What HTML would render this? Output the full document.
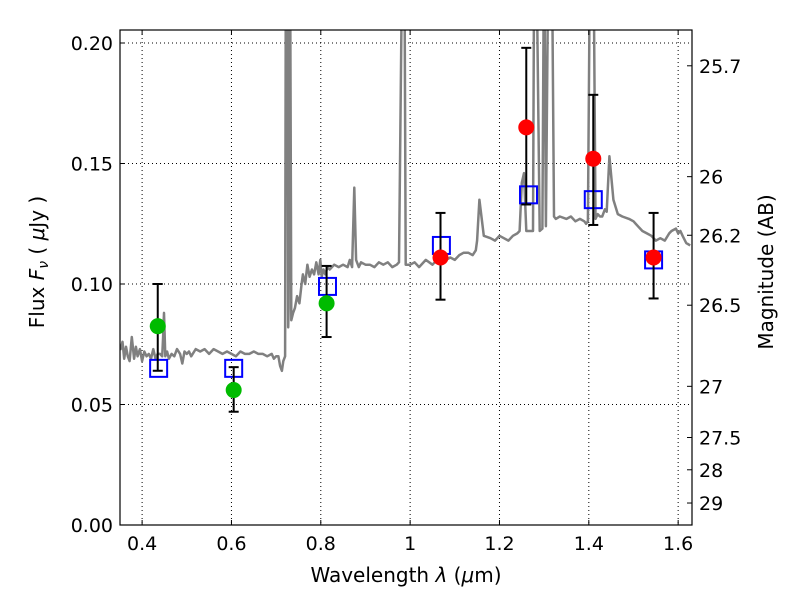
<!DOCTYPE html>
<html><head><meta charset="utf-8"><style>
body{margin:0;background:#fff}
svg{font-family:"DejaVu Sans","Liberation Sans",sans-serif}
</style></head><body>
<svg id="chart" width="800" height="600" viewBox="0 0 800 600" xmlns="http://www.w3.org/2000/svg"></svg>
<script>
// spectrum (wavelength um, flux uJy)
const specWave=[0.346,0.352,0.356,0.36,0.364,0.368,0.372,0.377,0.382,0.386,0.39,0.395,0.4,0.405,0.41,0.415,0.42,0.425,0.43,0.435,0.44,0.445,0.447,0.449,0.452,0.456,0.46,0.466,0.472,0.478,0.485,0.49,0.495,0.5,0.505,0.51,0.52,0.53,0.54,0.55,0.56,0.57,0.58,0.59,0.6,0.61,0.62,0.63,0.64,0.65,0.66,0.67,0.68,0.69,0.695,0.7,0.705,0.709,0.713,0.716,0.72,0.722,0.725,0.727,0.728,0.73,0.731,0.734,0.738,0.742,0.747,0.752,0.757,0.76,0.765,0.77,0.775,0.78,0.785,0.79,0.795,0.799,0.802,0.806,0.81,0.815,0.82,0.83,0.84,0.85,0.86,0.865,0.87,0.875,0.879,0.885,0.89,0.9,0.91,0.92,0.93,0.94,0.95,0.96,0.97,0.975,0.983,0.987,0.99,1.0,1.01,1.02,1.035,1.05,1.06,1.07,1.08,1.09,1.1,1.11,1.12,1.13,1.14,1.147,1.15,1.155,1.165,1.18,1.19,1.2,1.21,1.22,1.23,1.24,1.245,1.25,1.255,1.26,1.27,1.275,1.278,1.282,1.29,1.296,1.3,1.304,1.31,1.317,1.322,1.326,1.335,1.35,1.36,1.37,1.38,1.39,1.394,1.398,1.403,1.41,1.415,1.42,1.425,1.43,1.436,1.44,1.446,1.455,1.465,1.475,1.49,1.5,1.51,1.52,1.53,1.54,1.55,1.56,1.57,1.58,1.585,1.595,1.6,1.605,1.61,1.618,1.627];
const specFlux=[0.075,0.073,0.076,0.069,0.074,0.07,0.068,0.078,0.069,0.074,0.07,0.073,0.068,0.072,0.07,0.071,0.069,0.073,0.069,0.071,0.071,0.07,0.078,0.088,0.07,0.072,0.069,0.071,0.07,0.073,0.071,0.067,0.072,0.071,0.072,0.07,0.073,0.072,0.073,0.071,0.073,0.072,0.071,0.072,0.071,0.07,0.072,0.071,0.071,0.072,0.071,0.071,0.07,0.071,0.069,0.07,0.07,0.066,0.064,0.068,0.07,0.25,0.25,0.082,0.09,0.25,0.25,0.085,0.088,0.09,0.095,0.092,0.1,0.104,0.1,0.108,0.103,0.106,0.104,0.109,0.104,0.11,0.103,0.106,0.104,0.107,0.106,0.108,0.107,0.108,0.107,0.11,0.107,0.14,0.11,0.107,0.109,0.108,0.108,0.107,0.109,0.108,0.109,0.107,0.108,0.109,0.25,0.25,0.108,0.108,0.109,0.107,0.11,0.108,0.11,0.109,0.11,0.111,0.11,0.112,0.113,0.113,0.112,0.114,0.118,0.135,0.12,0.119,0.118,0.12,0.119,0.118,0.12,0.121,0.122,0.142,0.146,0.122,0.122,0.122,0.25,0.25,0.122,0.123,0.25,0.124,0.25,0.25,0.128,0.127,0.128,0.127,0.128,0.126,0.127,0.126,0.125,0.126,0.25,0.25,0.127,0.129,0.128,0.128,0.131,0.13,0.153,0.135,0.129,0.128,0.127,0.126,0.124,0.122,0.121,0.12,0.118,0.119,0.118,0.121,0.122,0.123,0.121,0.122,0.12,0.117,0.116,0.116];
// photometry
const greenWave=[0.435,0.605,0.813];
const greenFlux=[0.0825,0.056,0.092];
const greenLo=[0.064,0.047,0.078];
const greenHi=[0.1,0.0655,0.1075];
const redWave=[1.068,1.26,1.41,1.545];
const redFlux=[0.111,0.165,0.152,0.111];
const redLo=[0.0935,0.133,0.1245,0.094];
const redHi=[0.1295,0.198,0.1785,0.1295];
const modelWave=[0.437,0.605,0.815,1.07,1.265,1.41,1.545];
const modelFlux=[0.065,0.065,0.099,0.116,0.137,0.135,0.110];
const xTicks=[0.4,0.6,0.8,1.0,1.2,1.4,1.6];
const xTickLabels=["0.4","0.6","0.8","1","1.2","1.4","1.6"];
const yTicks=[0,0.05,0.1,0.15,0.2];
const yTickLabels=["0.00","0.05","0.10","0.15","0.20"];
const magTicks=[25.7,26,26.2,26.5,27,27.5,28,29];
const magTickLabels=["25.7","26","26.2","26.5","27","27.5","28","29"];

const L=120,R=692,T=30,B=525;
const x0=0.3505,x1=1.631,y0=0,y1=0.2054;
const X=v=>L+(v-x0)/(x1-x0)*(R-L);
const Y=v=>B-(v-y0)/(y1-y0)*(B-T);
const NS="http://www.w3.org/2000/svg";
const svg=document.getElementById('chart');
function mk(tag,attrs,parent){const e=document.createElementNS(NS,tag);for(const k in attrs)e.setAttribute(k,attrs[k]);(parent||svg).appendChild(e);return e;}

const clip=mk('clipPath',{id:'pc'});mk('rect',{x:L,y:T,width:R-L,height:B-T},clip);
const grid=mk('g',{});


xTicks.forEach(t=>mk('line',{x1:X(t),x2:X(t),y1:T,y2:B,stroke:'#000','stroke-width':1,'stroke-dasharray':'1,3'},grid));
yTicks.forEach(t=>mk('line',{x1:L,x2:R,y1:Y(t),y2:Y(t),stroke:'#000','stroke-width':1,'stroke-dasharray':'1,3'},grid));
let d=specWave.map((w,i)=>(i?'L':'M')+X(w).toFixed(1)+','+Y(specFlux[i]).toFixed(1)).join('');
const sp=mk('path',{d:d,fill:'none',stroke:'#808080','stroke-width':2.5,'stroke-linejoin':'round','clip-path':'url(#pc)'});


function err(w,lo,hi){const g=mk('g',{stroke:'#000','stroke-width':2});mk('line',{x1:X(w),x2:X(w),y1:Y(lo),y2:Y(hi)},g);mk('line',{x1:X(w)-5,x2:X(w)+5,y1:Y(lo),y2:Y(lo)},g);mk('line',{x1:X(w)-5,x2:X(w)+5,y1:Y(hi),y2:Y(hi)},g);

}
modelWave.forEach((w,i)=>{const r=mk('rect',{x:X(w)-8.5,y:Y(modelFlux[i])-8.5,width:17,height:17,fill:'none',stroke:'#0000ff','stroke-width':2});

});
greenWave.forEach((w,i)=>{err(w,greenLo[i],greenHi[i]);const c=mk('circle',{cx:X(w),cy:Y(greenFlux[i]),r:8,fill:'#00bb00'});

});
redWave.forEach((w,i)=>{err(w,redLo[i],redHi[i]);const c=mk('circle',{cx:X(w),cy:Y(redFlux[i]),r:8,fill:'#ff0000'});

});
const fr=mk('rect',{x:L,y:T,width:R-L,height:B-T,fill:'none',stroke:'#000','stroke-width':1.2});


xTicks.forEach((t,i)=>{mk('line',{x1:X(t),x2:X(t),y1:B,y2:B-5,stroke:'#000'});mk('line',{x1:X(t),x2:X(t),y1:T,y2:T+5,stroke:'#000'});
const tx=mk('text',{x:X(t),y:B+25,'font-size':19,'text-anchor':'middle'});tx.textContent=xTickLabels[i];

});
yTicks.forEach((t,i)=>{mk('line',{x1:L,x2:L+5,y1:Y(t),y2:Y(t),stroke:'#000'});
const tx=mk('text',{x:L-7,y:Y(t)+7,'font-size':19,'text-anchor':'end'});tx.textContent=yTickLabels[i];

});
magTicks.forEach((m,i)=>{const f=Math.pow(10,(23.9-m)/2.5);const y=Y(f);mk('line',{x1:R,x2:R-5,y1:y,y2:y,stroke:'#000'});
const tx=mk('text',{x:R+7,y:y+7,'font-size':19});tx.textContent=magTickLabels[i];

});
let t=mk('text',{x:406,y:582,'font-size':20,'text-anchor':'middle'});t.innerHTML='Wavelength  <tspan font-style="italic">λ</tspan> (<tspan font-style="italic">μ</tspan>m)';


t=mk('text',{x:0,y:0,'font-size':20,'text-anchor':'middle',transform:'translate(44,262) rotate(-90)'});t.innerHTML='Flux  <tspan font-style="italic">F</tspan><tspan font-style="italic" font-size="14" dy="4">ν</tspan><tspan dy="-4">  (  </tspan><tspan font-style="italic">μ</tspan>Jy )';


t=mk('text',{x:0,y:0,'font-size':20,'text-anchor':'middle',transform:'translate(773,272) rotate(-90)'});t.textContent='Magnitude (AB)';


</script>
</body></html>
